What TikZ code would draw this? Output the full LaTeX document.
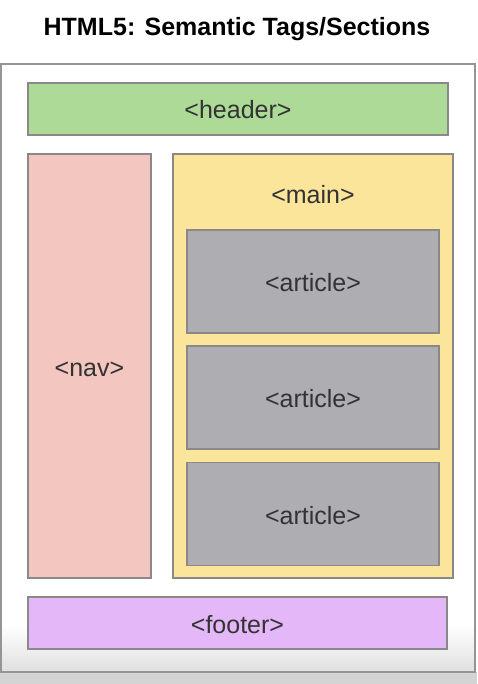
\documentclass[tikz,border=0pt]{standalone}
\usepackage{fontspec}
\setmainfont{Liberation Sans}
\definecolor{headergreen}{HTML}{ADDA97}
\definecolor{navpink}{HTML}{F4C6C0}
\definecolor{mainyellow}{HTML}{FBE59B}
\definecolor{articlegray}{HTML}{AEADB2}
\definecolor{footerviolet}{HTML}{E4B7F8}
\definecolor{edgegray}{HTML}{8A8888}
\tikzset{
  tagbox/.style={draw=edgegray, line width=1.5pt, inner sep=0pt, text height=22pt, text depth=2pt,
    font=\fontsize{25}{28}\selectfont, text=black!80},
  tag/.style={text height=22pt, text depth=2pt, font=\fontsize{25}{28}\selectfont, text=black!80}
}
\begin{document}
\begin{tikzpicture}[x=1pt, y=-1pt]
  \useasboundingbox (0,0) rectangle (477,684);
  % page background and frame
  \fill[black!17] (0,672) rectangle (477,684);
  \fill[white] (1,64) rectangle (475,672);
  \shade[top color=white, bottom color=black!12] (2,625) rectangle (474,671);
  \draw[edgegray!90, line width=2pt] (1,64) rectangle (475,672);
  \node[font=\bfseries\fontsize{25}{28}\selectfont] (title) at (237,29) {HTML5: Semantic Tags/Sections};
  % sections
  \node[tagbox, fill=headergreen, minimum width=420pt, minimum height=52pt] (header) at (238,109) {<header>};
  \node[tagbox, fill=navpink, minimum width=123pt, minimum height=424pt] (nav) at (89.5,366) {<nav>};
  \node[tagbox, fill=mainyellow, minimum width=280pt, minimum height=424pt] (main) at (313,366) {};
  \node[tag] (maintag) at (313,194) {<main>};
  \foreach \i/\y in {1/281.5, 2/397.5, 3/514}
    \node[tagbox, fill=articlegray, minimum width=252pt, minimum height=103pt] (article\i) at (313,\y) {<article>};
  \node[tagbox, fill=footerviolet, minimum width=419pt, minimum height=52pt] (footer) at (237.5,623) {<footer>};
\end{tikzpicture}
\end{document}
